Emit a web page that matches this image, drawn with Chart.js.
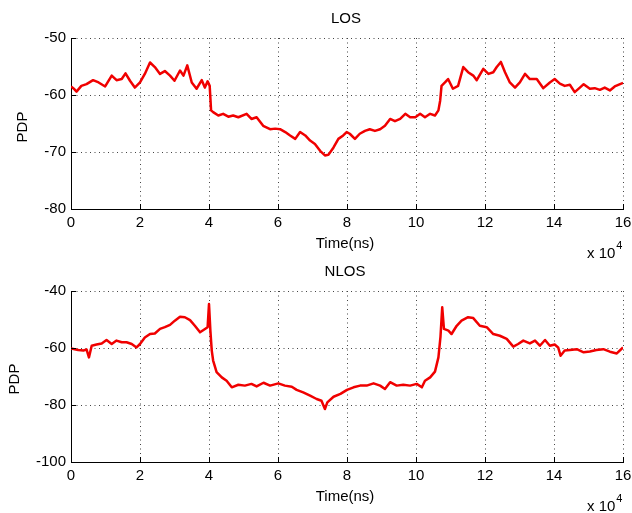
<!DOCTYPE html>
<html><head><meta charset="utf-8">
<script src="https://cdn.jsdelivr.net/npm/chart.js@4"></script>
<style>
html,body{margin:0;padding:0;background:#fff;width:632px;height:513px;overflow:hidden}
canvas{display:block;position:absolute;left:0;top:0}
</style></head><body>
<canvas id="c1" width="632" height="513" style="width:632px;height:513px"></canvas>
<canvas id="c2" width="632" height="513" style="width:632px;height:513px"></canvas>
<script>
// ---- data (time in units of 10^4 ns, PDP in dB) ----
const xTicks = [0, 2, 4, 6, 8, 10, 12, 14, 16];
const losYTicks = [-80, -70, -60, -50];
const nlosYTicks = [-100, -80, -60, -40];

const losTime = [0.00,0.10,0.16,0.30,0.45,0.64,0.80,0.99,1.18,1.32,1.47,1.58,1.71,1.85,2.00,2.14,2.29,2.43,2.58,2.72,2.87,3.00,3.16,3.26,3.37,3.50,3.64,3.79,3.88,3.96,4.02,4.06,4.12,4.27,4.41,4.56,4.70,4.85,5.09,5.23,5.38,5.57,5.77,5.92,6.06,6.21,6.35,6.50,6.64,6.79,6.93,7.07,7.22,7.36,7.46,7.61,7.75,7.89,7.99,8.08,8.23,8.37,8.52,8.66,8.81,8.96,9.10,9.25,9.39,9.54,9.69,9.83,9.98,10.12,10.26,10.41,10.55,10.65,10.70,10.74,10.84,10.93,11.07,11.22,11.37,11.51,11.66,11.76,11.95,12.10,12.24,12.34,12.46,12.58,12.72,12.87,13.01,13.16,13.30,13.50,13.69,13.88,14.02,14.17,14.31,14.46,14.60,14.75,14.86,15.04,15.18,15.33,15.47,15.62,15.76,15.95,16.00];
const losPDP = [-58.5,-59.0,-59.4,-58.4,-58.1,-57.4,-57.8,-58.5,-56.6,-57.4,-57.2,-56.2,-57.5,-58.7,-57.8,-56.3,-54.3,-55.1,-56.3,-55.8,-56.6,-57.5,-55.7,-56.6,-54.8,-57.8,-58.9,-57.4,-58.7,-57.6,-58.4,-62.7,-63.0,-63.6,-63.3,-63.8,-63.6,-63.9,-63.3,-64.2,-63.9,-65.4,-66.0,-65.9,-66.0,-66.5,-67.1,-67.7,-66.5,-67.1,-68.0,-68.6,-69.8,-70.6,-70.5,-69.2,-67.7,-67.1,-66.5,-66.8,-67.7,-66.8,-66.3,-66.0,-66.3,-66.0,-65.4,-64.2,-64.6,-64.2,-63.3,-63.9,-63.9,-63.3,-63.9,-63.3,-63.6,-62.7,-61.0,-58.4,-57.8,-57.2,-58.9,-58.4,-55.1,-56.0,-56.6,-57.4,-55.4,-56.3,-56.0,-55.1,-54.2,-56.0,-57.8,-58.7,-57.8,-56.3,-57.2,-57.2,-58.8,-57.8,-57.2,-58.0,-58.4,-58.2,-59.5,-58.7,-58.1,-58.9,-58.8,-59.1,-58.7,-59.2,-58.5,-58.0,-57.9];

const nlosTime = [0.00,0.21,0.36,0.45,0.52,0.60,0.74,0.89,1.03,1.18,1.32,1.47,1.61,1.76,1.90,2.00,2.14,2.29,2.43,2.58,2.72,2.87,3.01,3.16,3.30,3.45,3.59,3.74,3.84,3.96,4.00,4.04,4.08,4.12,4.22,4.37,4.51,4.66,4.85,5.04,5.23,5.38,5.58,5.77,6.01,6.20,6.40,6.54,6.73,6.93,7.12,7.26,7.36,7.43,7.61,7.81,8.00,8.19,8.38,8.57,8.77,8.96,9.10,9.25,9.44,9.63,9.83,10.02,10.17,10.26,10.41,10.55,10.65,10.71,10.76,10.81,10.94,11.03,11.18,11.32,11.51,11.66,11.85,12.05,12.24,12.43,12.63,12.82,12.96,13.11,13.30,13.45,13.59,13.74,13.88,14.02,14.12,14.19,14.31,14.46,14.66,14.86,15.04,15.23,15.43,15.62,15.82,16.00];
const nlosPDP = [-60.2,-60.7,-60.9,-60.5,-63.3,-59.2,-58.8,-58.4,-57.2,-58.6,-57.4,-58.0,-58.0,-58.6,-59.8,-58.6,-56.3,-55.1,-54.9,-53.3,-52.7,-51.9,-50.4,-49.0,-49.2,-50.2,-52.2,-54.5,-53.7,-52.7,-44.6,-53.9,-60.9,-64.4,-68.5,-70.3,-71.5,-73.8,-72.9,-73.2,-72.6,-73.5,-72.2,-73.2,-72.4,-73.2,-73.6,-74.7,-75.6,-76.7,-77.9,-78.5,-81.4,-79.1,-77.1,-76.1,-74.7,-73.8,-73.2,-73.2,-72.4,-73.2,-74.4,-72.0,-73.2,-72.9,-73.2,-72.6,-73.8,-71.5,-70.3,-68.3,-63.3,-56.0,-45.7,-53.3,-53.9,-55.1,-52.2,-50.4,-49.2,-49.5,-52.2,-52.7,-55.1,-55.7,-56.8,-59.5,-58.6,-57.4,-58.4,-57.4,-59.2,-57.2,-59.2,-58.8,-59.8,-62.7,-60.9,-60.7,-60.4,-61.5,-61.2,-60.7,-60.4,-61.3,-61.9,-59.8];

// ---- rendering ----
const FONT = "'Liberation Sans', Arial, Helvetica, sans-serif";
const FS = 15;
const H = 513;

const axesText = {
  id: 'axesText',
  afterDraw(chart, args, o) {
    const ctx = chart.ctx, a = chart.chartArea;
    ctx.save();
    // inward tick marks (MATLAB style)
    ctx.strokeStyle = '#000'; ctx.lineWidth = 1;
    ctx.beginPath();
    chart.scales.y.ticks.forEach(t => {
      const py = Math.round(chart.scales.y.getPixelForValue(t.value)) + 0.5;
      ctx.moveTo(a.left, py); ctx.lineTo(a.left + 5, py);
    });
    chart.scales.x.ticks.forEach(t => {
      const px = Math.round(chart.scales.x.getPixelForValue(t.value)) + 0.5;
      ctx.moveTo(px, a.bottom); ctx.lineTo(px, a.bottom - 5);
    });
    ctx.stroke();
    // texts
    ctx.fillStyle = '#000';
    ctx.font = FS + 'px ' + FONT;
    ctx.textAlign = 'center'; ctx.textBaseline = 'middle';
    ctx.fillText(o.title, o.titleX, o.titleY);
    ctx.fillText(o.xlabel, o.xlabX, o.xlabY);
    ctx.textAlign = 'left';
    const base = 'x 10';
    ctx.fillText(base, o.expX, o.expY);
    const w = ctx.measureText(base).width;
    ctx.font = '11px ' + FONT;
    ctx.fillText(o.expPow, o.expX + w + 1, o.expY - 8);
    ctx.font = FS + 'px ' + FONT;
    ctx.translate(o.ylabX, o.ylabY);
    ctx.rotate(-Math.PI / 2);
    ctx.textAlign = 'center';
    ctx.fillText(o.ylabel, 0, 0);
    ctx.restore();
  }
};

function makeChart(id, areaTop, areaBottom, times, values, yTicks, txt) {
  const pts = times.map((t, i) => ({ x: t, y: values[i] }));
  const tickFont = { family: FONT, size: FS };
  const grid = { color: '#444', lineWidth: 1, drawTicks: false };
  const border = { display: true, color: '#000', width: 1, dash: [1, 3.5] };
  return new Chart(document.getElementById(id), {
    type: 'line',
    data: { datasets: [{ data: pts, borderColor: '#f00000', borderWidth: 2.5, pointRadius: 0, tension: 0, fill: false, borderJoinStyle: 'round' }] },
    options: {
      responsive: false, animation: false, devicePixelRatio: 1,
      layout: { padding: { top: areaTop, left: 0, right: 9, bottom: 0 } },
      plugins: { legend: { display: false }, tooltip: { enabled: false }, title: { display: false }, axesText: txt },
      scales: {
        x: {
          type: 'linear', min: xTicks[0], max: xTicks[xTicks.length - 1], position: 'bottom',
          afterBuildTicks: s => { s.ticks = xTicks.map(v => ({ value: v })); },
          afterFit: s => { s.height = H - areaBottom; s.paddingLeft = 0; s.paddingRight = 0; },
          ticks: { padding: 5, color: '#000', font: tickFont, maxRotation: 0, autoSkip: false, callback: v => String(v) },
          grid, border
        },
        y: {
          type: 'linear', min: yTicks[0], max: yTicks[yTicks.length - 1],
          afterBuildTicks: s => { s.ticks = yTicks.map(v => ({ value: v })); },
          afterFit: s => { s.width = 71; s.paddingTop = 0; s.paddingBottom = 0; },
          ticks: { padding: 5, color: '#000', font: tickFont, autoSkip: false, callback: v => String(v) },
          grid, border
        }
      }
    },
    plugins: [axesText]
  });
}

makeChart('c1', 38, 209, losTime, losPDP, losYTicks, {
  title: 'LOS', titleX: 346, titleY: 19,
  xlabel: 'Time(ns)', xlabX: 345, xlabY: 244,
  expX: 587, expY: 254, expPow: '4',
  ylabel: 'PDP', ylabX: 23, ylabY: 127
});
makeChart('c2', 291, 462, nlosTime, nlosPDP, nlosYTicks, {
  title: 'NLOS', titleX: 345, titleY: 272,
  xlabel: 'Time(ns)', xlabX: 345, xlabY: 497,
  expX: 587, expY: 507, expPow: '4',
  ylabel: 'PDP', ylabX: 15, ylabY: 379
});
</script>
</body></html>
